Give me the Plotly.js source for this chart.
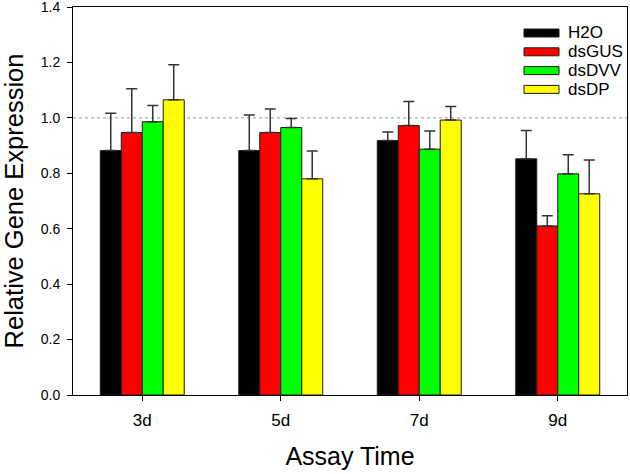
<!DOCTYPE html>
<html>
<head>
<meta charset="utf-8">
<script src="https://cdn.plot.ly/plotly-3.0.1.min.js"></script>
<style>html,body{margin:0;padding:0;background:#fff;}#chart{width:630px;height:474px;}</style>
</head>
<body>
<div id="chart"></div>
<script>
const categories = ["3d", "5d", "7d", "9d"];
const seriesNames = ["H2O", "dsGUS", "dsDVV", "dsDP"];
const seriesColors = ["#000000", "#ff0000", "#00ff00", "#ffff00"];
const h2oValues   = [0.882, 0.882, 0.918, 0.852];
const h2oErr      = [0.135, 0.128, 0.031, 0.102];
const dsgusValues = [0.947, 0.947, 0.972, 0.610];
const dsgusErr    = [0.158, 0.085, 0.087, 0.037];
const dsdvvValues = [0.986, 0.965, 0.887, 0.798];
const dsdvvErr    = [0.059, 0.033, 0.066, 0.069];
const dsdpValues  = [1.065, 0.780, 0.992, 0.726];
const dsdpErr     = [0.127, 0.100, 0.049, 0.122];
const yTicks = [0.0, 0.2, 0.4, 0.6, 0.8, 1.0, 1.2, 1.4];
const referenceLevel = 1.0;

const values = [h2oValues, dsgusValues, dsdvvValues, dsdpValues];
const errs = [h2oErr, dsgusErr, dsdvvErr, dsdpErr];
const FONT = 'Arial, "Liberation Sans", sans-serif';

const traces = seriesNames.map((name, i) => ({
  type: 'bar',
  name: name,
  x: categories,
  y: values[i],
  marker: {color: seriesColors[i], line: {color: '#1a1a1a', width: 1}},
  error_y: {type: 'data', symmetric: false, array: errs[i], arrayminus: errs[i].map(() => 0),
            color: '#333333', thickness: 1.5, width: 5.5},
  showlegend: false
}));

// pixel geometry of plot area
const L = 73, R = 627, T = 7, B = 395;
const px2x = p => (p - L) / (R - L);
const px2y = p => (B - p) / (B - T);

const shapes = [{
  type: 'line', xref: 'paper', yref: 'y', x0: 0, x1: 1, y0: referenceLevel, y1: referenceLevel,
  line: {color: '#9a9a9a', width: 1, dash: 'dot'}, layer: 'below'
}];
const annotations = [];
seriesNames.forEach((name, i) => {
  const cy = 33 + i * 18.8;
  shapes.push({
    type: 'rect', xref: 'paper', yref: 'paper',
    x0: px2x(524), x1: px2x(559), y0: px2y(cy + 4), y1: px2y(cy - 4),
    fillcolor: seriesColors[i], line: {color: '#1a1a1a', width: 1}
  });
  annotations.push({
    xref: 'paper', yref: 'paper', x: px2x(566), y: px2y(cy), xanchor: 'left', yanchor: 'middle',
    text: name, showarrow: false, font: {family: FONT, size: 17, color: '#000'}
  });
});

const layout = {
  width: 630, height: 474,
  margin: {l: L, r: 630 - R, t: T, b: 474 - B},
  paper_bgcolor: '#fff', plot_bgcolor: '#fff',
  barmode: 'group', bargap: 0.394, bargroupgap: 0,
  font: {family: FONT, color: '#000'},
  xaxis: {
    type: 'category', range: [-0.5, 3.5],
    showline: true, linecolor: '#000', linewidth: 1, mirror: true,
    ticks: 'outside', ticklen: 5, tickcolor: '#000', tickwidth: 1,
    tickfont: {size: 17}, ticklabelstandoff: 5, showgrid: false, zeroline: false,
    title: {text: 'Assay Time', font: {size: 25}, standoff: 18}
  },
  yaxis: {
    range: [0, 1.4], tickvals: yTicks, ticktext: yTicks.map(v => v.toFixed(1)),
    showline: true, linecolor: '#000', linewidth: 1, mirror: true,
    ticks: 'outside', ticklen: 5, tickcolor: '#000', tickwidth: 1,
    tickfont: {size: 14}, ticklabelstandoff: 4, ticklabeloverflow: 'allow', showgrid: false, zeroline: false,
    title: {text: 'Relative Gene Expression', font: {size: 25.5}, standoff: 12}
  },
  shapes: shapes,
  annotations: annotations
};

Plotly.newPlot('chart', traces, layout, {staticPlot: true, displayModeBar: false});
</script>
</body>
</html>
